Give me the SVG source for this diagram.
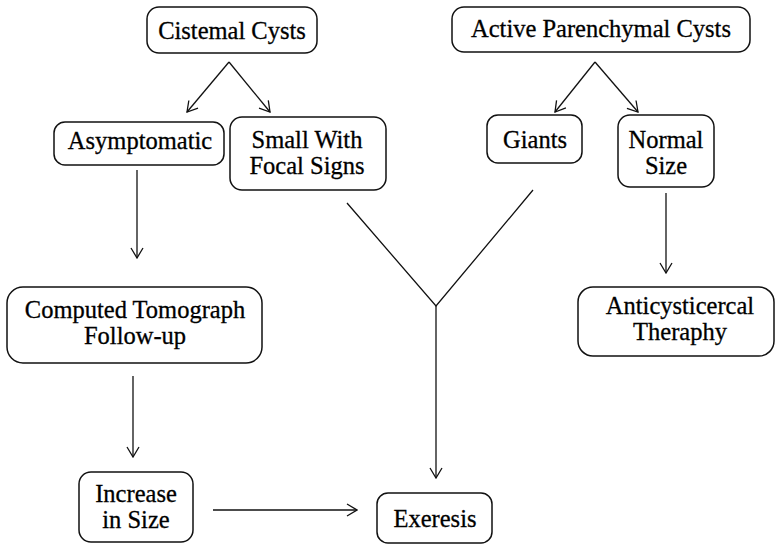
<svg xmlns="http://www.w3.org/2000/svg" width="776" height="545" viewBox="0 0 776 545">
<style>
.box{fill:#fff;stroke:#111;stroke-width:1.5}
.t{font-family:'Times New Roman','Liberation Serif',Tinos,'DejaVu Serif',serif;font-size:24.5px;fill:#000;stroke:#000;stroke-width:0.3;text-anchor:middle}
.c{fill:none;stroke:#111;stroke-width:1.3}
</style>
<defs>
<marker id="ah" viewBox="0 0 12 14" refX="11" refY="7" markerWidth="12" markerHeight="14" markerUnits="userSpaceOnUse" orient="auto">
<path d="M1,1 L11,7 L1,13" fill="none" stroke="#111" stroke-width="1.3"/>
</marker>
</defs>
<rect width="776" height="545" fill="#fff"/>
<g id="connectors">
<line class="c" x1="229" y1="62" x2="187" y2="112" marker-end="url(#ah)"/>
<line class="c" x1="229" y1="62" x2="270" y2="112" marker-end="url(#ah)"/>
<line class="c" x1="595" y1="62" x2="555" y2="112" marker-end="url(#ah)"/>
<line class="c" x1="595" y1="62" x2="638" y2="112" marker-end="url(#ah)"/>
<line class="c" x1="137" y1="170" x2="137" y2="258" marker-end="url(#ah)"/>
<line class="c" x1="133" y1="376" x2="133" y2="457" marker-end="url(#ah)"/>
<line class="c" x1="213" y1="510" x2="357" y2="510" marker-end="url(#ah)"/>
<line class="c" x1="666" y1="193" x2="666" y2="273" marker-end="url(#ah)"/>
<polyline class="c" points="347,203 436,306 533,190"/>
<line class="c" x1="436" y1="306" x2="436" y2="478" marker-end="url(#ah)"/>
</g>
<g id="cistemal"><rect class="box" x="147" y="7" width="170" height="46" rx="12"/><text class="t" x="232" y="39">Cistemal Cysts</text></g>
<g id="active"><rect class="box" x="452" y="7" width="298" height="45" rx="12"/><text class="t" x="601" y="37">Active Parenchymal Cysts</text></g>
<g id="asymptomatic"><rect class="box" x="54" y="122" width="170" height="43" rx="11"/><text class="t" x="140" y="149">Asymptomatic</text></g>
<g id="small"><rect class="box" x="230" y="117" width="156" height="73" rx="12"/><text class="t" x="307" y="148">Small With</text><text class="t" x="307" y="174">Focal Signs</text></g>
<g id="giants"><rect class="box" x="487" y="115" width="95" height="48" rx="11"/><text class="t" x="535" y="148">Giants</text></g>
<g id="normal"><rect class="box" x="618" y="115" width="96" height="72" rx="12"/><text class="t" x="666" y="148">Normal</text><text class="t" x="666" y="174">Size</text></g>
<g id="computed"><rect class="box" x="7" y="287" width="255" height="76" rx="16"/><text class="t" x="135" y="318">Computed Tomograph</text><text class="t" x="135" y="344">Follow-up</text></g>
<g id="anticysticercal"><rect class="box" x="578" y="287" width="196" height="69" rx="15"/><text class="t" x="680" y="314">Anticysticercal</text><text class="t" x="680" y="340">Theraphy</text></g>
<g id="increase"><rect class="box" x="79" y="472" width="114" height="70" rx="12"/><text class="t" x="136" y="502">Increase</text><text class="t" x="136" y="528">in Size</text></g>
<g id="exeresis"><rect class="box" x="377" y="493" width="115" height="50" rx="11"/><text class="t" x="435" y="527">Exeresis</text></g>
</svg>
